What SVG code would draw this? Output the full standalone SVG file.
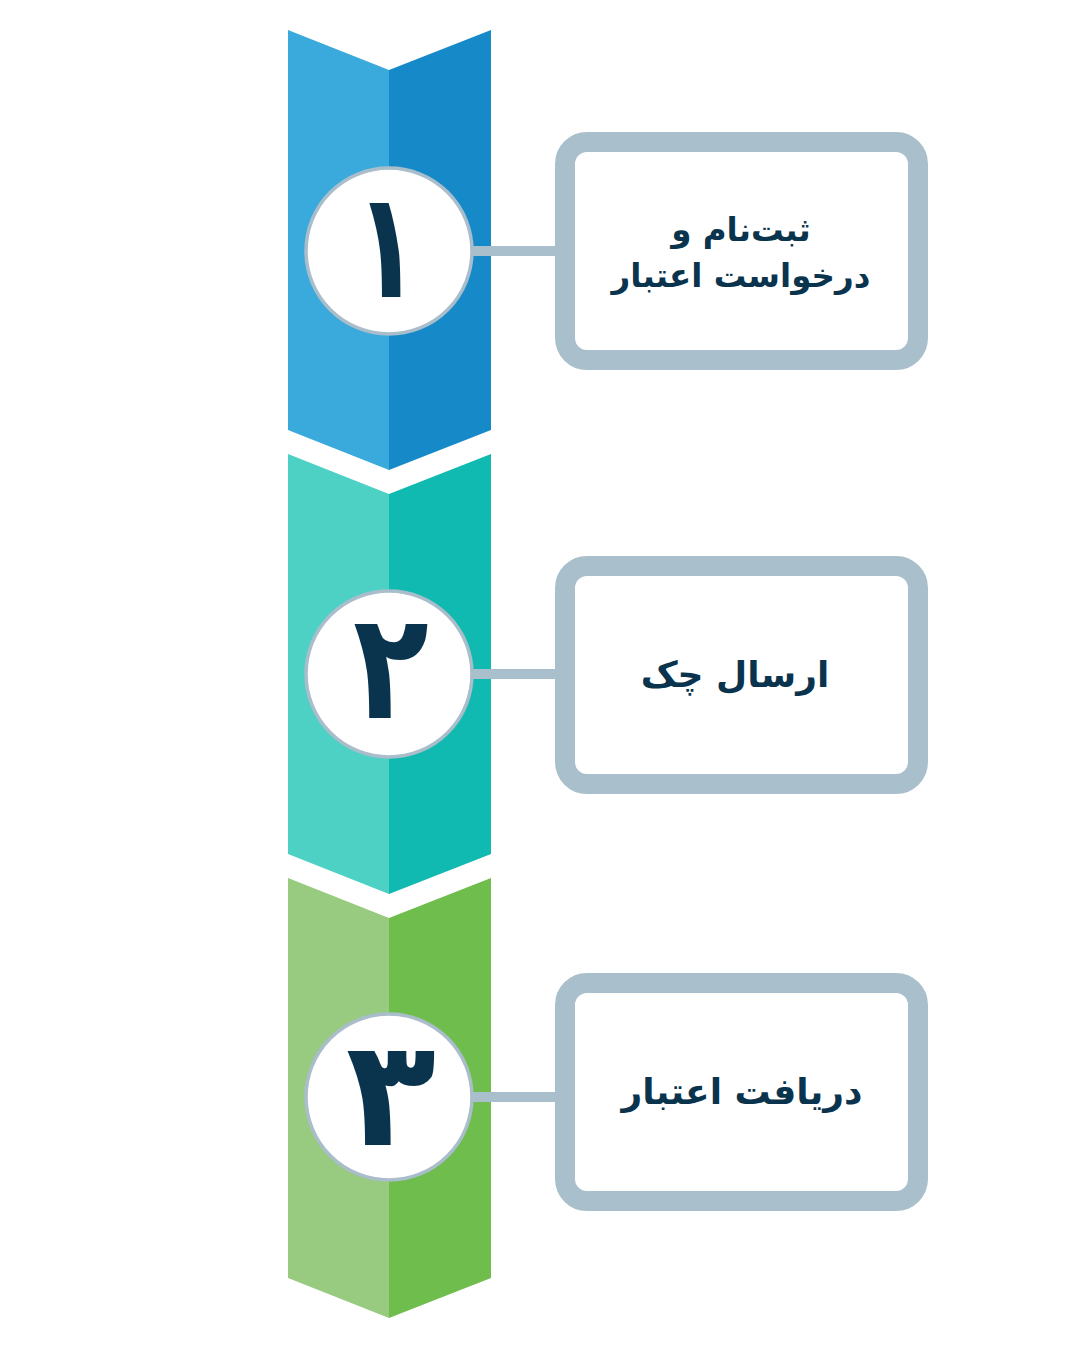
<svg xmlns="http://www.w3.org/2000/svg" width="1080" height="1350" viewBox="0 0 1080 1350">
<style>
.ring{fill:#ffffff;stroke:#A9BDCB;stroke-width:3.5}
.box{fill:#ffffff;stroke:#AABFCC;stroke-width:20}
.link{stroke:#AABFCC;stroke-width:10;fill:none}
.num{font-family:"DejaVu Sans",sans-serif;font-weight:bold;font-size:148px;fill:#0A344D;text-anchor:middle}
.lbl{font-family:"DejaVu Sans",sans-serif;font-weight:bold;font-size:32.5px;fill:#0A344D;text-anchor:middle}
.lbl2{font-size:36px}
</style>
<rect width="1080" height="1350" fill="#ffffff"/>
<g id="step1">
<polygon points="288,30 389,70 389,470 288,430" fill="#3AA9DC"/>
<polygon points="389,70 491,30 491,430 389,470" fill="#1689C9"/>
<circle class="ring" cx="389" cy="251" r="83"/>
<text class="num" transform="translate(387,0) scale(0.72,1)" x="0" y="297" direction="rtl">۱</text>
</g>
<g id="step2">
<polygon points="288,454 389,494 389,894 288,854" fill="#4DD1C4"/>
<polygon points="389,494 491,454 491,854 389,894" fill="#11BAB0"/>
<circle class="ring" cx="389" cy="674" r="83"/>
<text class="num" transform="translate(391,0) scale(0.84,1)" x="0" y="718" direction="rtl">۲</text>
</g>
<g id="step3">
<polygon points="288,878 389,918 389,1318 288,1278" fill="#98CB80"/>
<polygon points="389,918 491,878 491,1278 389,1318" fill="#6FBD4C"/>
<circle class="ring" cx="389" cy="1097" r="83"/>
<text class="num" x="391" y="1145" direction="rtl">۳</text>
</g>
<g id="connectors">
<line class="link" x1="473" y1="251" x2="558" y2="251"/>
<line class="link" x1="473" y1="674" x2="558" y2="674"/>
<line class="link" x1="473" y1="1097" x2="558" y2="1097"/>
</g>
<g id="box1">
<rect class="box" x="565" y="142" width="353" height="218" rx="22"/>
<text class="lbl" x="741" y="241" direction="rtl">ثبت‌نام و</text>
<text class="lbl" x="741" y="287" direction="rtl">درخواست اعتبار</text>
</g>
<g id="box2">
<rect class="box" x="565" y="566" width="353" height="218" rx="22"/>
<text class="lbl lbl2" x="735" y="687" direction="rtl">ارسال چک</text>
</g>
<g id="box3">
<rect class="box" x="565" y="983" width="353" height="218" rx="22"/>
<text class="lbl lbl2" x="742" y="1104" direction="rtl">دریافت اعتبار</text>
</g>
</svg>
